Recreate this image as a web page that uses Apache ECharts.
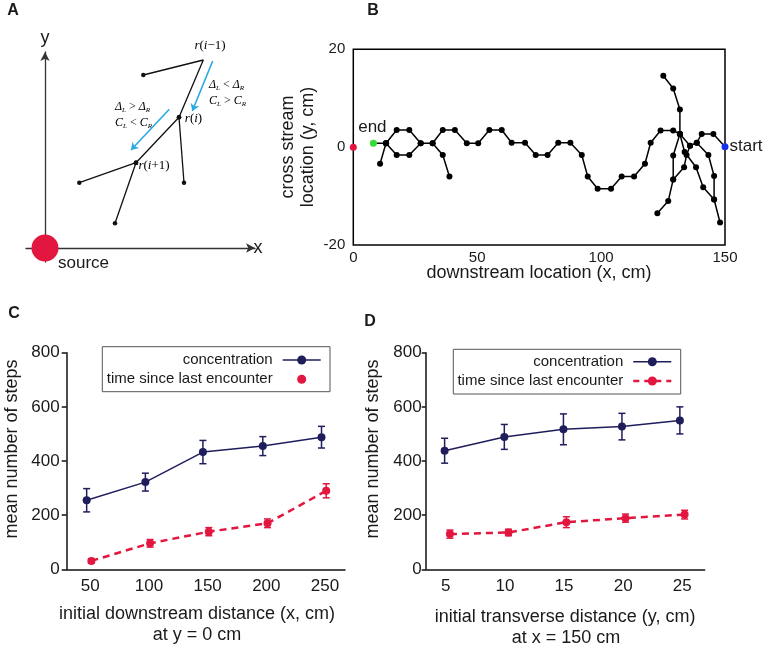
<!DOCTYPE html>
<html><head><meta charset="utf-8">
<script src="https://cdn.jsdelivr.net/npm/echarts@6/dist/echarts.min.js"></script>
<style>html,body{margin:0;padding:0;background:#fff}#c{width:768px;height:653px}</style>
</head><body><div id="c"></div>
<script>
// ---------- Panel A (schematic, arbitrary units with source at origin) ----------
const schemPath = [[98.3,173],[158.3,188],[134,130.7],[91,85.3]];
const schemDotted = [true,false,true,true];
const schemBranchR = [[134,130.7],[139,65.3]];
const schemBranchL = [[91,85.3],[34.3,65.3]];
const schemBranchB = [[91,85.3],[70,24.7]];
const schemArrow1 = [[167.7,187],[147.3,137]];
const schemArrow2 = [[124.3,138.7],[86,98]];
const schemSource = [0,0];

// ---------- Panel B (trajectory, cm) ----------
const mainPath = [[150,0.1],[145.3,2.7],[140.6,2.7],[138.6,0.9],[135.9,0.3],[131.8,2.7],[129.1,3.4],[124.0,3.4],[120.0,0.9],[117.7,-3.4],[113.3,-6.0],[108.3,-6.0],[104.0,-8.5],[98.6,-8.5],[94.6,-6.0],[92.2,-1.6],[87.6,0.9],[82.7,0.9],[78.4,-1.6],[73.6,-1.6],[69.3,0.9],[63.9,0.9],[59.9,3.5],[54.9,3.5],[50.4,0.8],[45.8,0.8],[41.0,3.5],[36.1,3.5],[32.0,0.8],[27.2,0.8],[22.6,3.5],[17.5,3.5],[13.2,0.8],[8.1,0.8]];
const branchTop = [[131.8,2.7],[131.8,7.7],[129.1,12.0],[125.1,14.6]];
const branchLowLeft = [[135.9,0.3],[134.5,-1.6],[133.5,-4.1],[129.1,-6.6],[127.1,-11.0],[122.7,-13.5]];
const branchVert = [[131.8,2.7],[129.1,-1.7],[129.1,-6.6]];
const branchLowRight = [[131.8,2.7],[133.7,-1.0],[138.3,-4.1],[141.2,-8.2],[145.6,-10.7],[148.0,-15.4]];
const branchRight = [[138.6,0.9],[143.3,-1.6],[145.6,-5.9],[145.6,-10.7]];
const branchEnd = [[13.2,0.8],[10.8,-3.4]];
const branchLow1 = [[27.2,0.8],[22.6,-1.6],[17.5,-1.6],[13.2,0.8]];
const branchLow2 = [[32.0,0.8],[36.1,-1.6],[38.8,-6.0]];
const startPt = [150,0.1];
const endPt = [8.1,0.8];
const sourcePt = [0,0];
const bXTicks = [0,50,100,150];
const bYTicks = [-20,0,20];

// ---------- Panel C ----------
const cTicks = [50,100,150,200,250];
const concCx = [47,97,146,197,247];
const concC = [255,322,433,455,488];
const concCErr = [43,33,43,35,40];
const timeCx = [51,101,151,201,251];
const timeC = [31,96,139,170,290];
const timeCErr = [8,14,15,16,26];

// ---------- Panel D ----------
const dTicks = [5,10,15,20,25];
const concDx = [4.9,9.95,14.95,19.9,24.8];
const concD = [438,489,517,527,550];
const concDErr = [46,46,57,49,50];
const timeDx = [5.35,10.3,15.2,20.2,25.2];
const timeD = [130,136,174,189,202];
const timeDErr = [15,12,20,15,16];

const NAVY = '#1f1d5c', RED = '#e2163e', FONT = '"Liberation Sans", Arial, sans-serif', TXT = '#1a1a1a';

function zip(xs, ys){ return xs.map((x,i)=>[x,ys[i]]); }
function errData(xs, ys, es){ return xs.map((x,i)=>[x, ys[i]-es[i], ys[i]+es[i]]); }
function errSeries(data, color, xi){
  return {type:'custom', xAxisIndex:xi, yAxisIndex:xi, data:data, z:3,
    renderItem:function(params, api){
      const x = api.value(0);
      const p1 = api.coord([x, api.value(2)]), p2 = api.coord([x, api.value(1)]);
      const w = 3.5, st = {stroke:color, lineWidth:1.5};
      return {type:'group', children:[
        {type:'line', shape:{x1:p1[0],y1:p1[1],x2:p2[0],y2:p2[1]}, style:st},
        {type:'line', shape:{x1:p1[0]-w,y1:p1[1],x2:p1[0]+w,y2:p1[1]}, style:st},
        {type:'line', shape:{x1:p2[0]-w,y1:p2[1],x2:p2[0]+w,y2:p2[1]}, style:st}
      ]};
    }};
}
function trail(data, idx){
  return {type:'line', xAxisIndex:idx, yAxisIndex:idx, data:data, symbol:'circle', symbolSize:6,
    lineStyle:{color:'#000', width:1.5}, itemStyle:{color:'#000'}, animation:false, silent:true, z:2};
}

const hidden = {show:false};
const chart = echarts.init(document.getElementById('c'));

const mainData = mainPath.map((p,i)=> (i===0 || i===mainPath.length-1) ? {value:p, symbol:'none'} : p);
const schemData = schemPath.map((p,i)=> schemDotted[i] ? p : {value:p, symbol:'none'});

function schemLine(data){
  return {type:'line', xAxisIndex:0, yAxisIndex:0, data:data, symbol:'circle', symbolSize:4.5,
    lineStyle:{color:'#111', width:1.3}, itemStyle:{color:'#111'}, silent:true};
}

function yTitle(text, x, y){
  return {type:'text', x:x, y:y, rotation:Math.PI/2, style:{text:text, font:'18px '+FONT, fill:TXT, align:'center', verticalAlign:'middle'}};
}
function txt(text, x, y, size, align, weight){
  return {type:'text', x:x, y:y, style:{text:text, font:(weight?weight+' ':'')+size+'px '+FONT, fill:TXT, align:align||'center', verticalAlign:'middle'}};
}
function legendBox(x,y,w,h, tx, y1, y2, lx1, lx2, redLine){
  const cx = (lx1+lx2)/2;
  const els = [
    {type:'rect', shape:{x:x,y:y,width:w,height:h}, style:{fill:'#fff', stroke:'#555', lineWidth:1}, z:10},
    {type:'text', x:tx, y:y1, z:11, style:{text:'concentration', font:'15px '+FONT, fill:TXT, align:'right', verticalAlign:'middle'}},
    {type:'text', x:tx, y:y2, z:11, style:{text:'time since last encounter', font:'15px '+FONT, fill:TXT, align:'right', verticalAlign:'middle'}},
    {type:'line', shape:{x1:lx1,y1:y1,x2:lx2,y2:y1}, style:{stroke:NAVY, lineWidth:1.5}, z:11},
    {type:'circle', shape:{cx:cx, cy:y1, r:4.5}, style:{fill:NAVY}, z:12},
    {type:'circle', shape:{cx:cx, cy:y2, r:4.5}, style:{fill:RED}, z:12}
  ];
  if (redLine) els.push({type:'line', shape:{x1:lx1,y1:y2,x2:lx2,y2:y2}, style:{stroke:RED, lineWidth:2.5, lineDash:[6,5]}, z:11});
  return els;
}

const rich = {
  it:{fontFamily:'"Liberation Serif", serif', fontStyle:'italic', fontSize:13, color:'#222'},
  n:{fontFamily:'"Liberation Serif", serif', fontSize:13, color:'#222'},
  g:{fontFamily:'"Liberation Serif", serif', fontStyle:'italic', fontSize:12, color:'#555'},
  s:{fontFamily:'"Liberation Serif", serif', fontStyle:'italic', fontSize:7, color:'#555', verticalAlign:'bottom', padding:[6,0,0,0]},
  o:{fontFamily:'"Liberation Serif", serif', fontSize:12, color:'#555'}
};
function rt(text, x, y, align){ return {type:'text', x:x, y:y, style:{text:text, rich:rich, align:align||'left', verticalAlign:'middle'}}; }

const option = {
  animation:false,
  backgroundColor:'#fff',
  textStyle:{fontFamily:FONT},
  grid:[
    {left:26, top:52, width:229, height:210},
    {left:353.3, top:49.3, width:371.7, height:195.7, show:true, borderColor:'#000', borderWidth:1.5, backgroundColor:'transparent'},
    {left:66.7, top:352.7, width:278.3, height:216.6},
    {left:425.7, top:352.7, width:279, height:216.6}
  ],
  xAxis:[
    {gridIndex:0, type:'value', min:-19, max:210, axisLine:{show:true, onZero:true, symbol:['none','arrow'], symbolSize:[7,9], lineStyle:{color:'#333', width:1.3}}, axisTick:hidden, axisLabel:hidden, splitLine:hidden},
    {gridIndex:1, type:'value', min:0, max:150, interval:50, axisLine:hidden, axisTick:hidden, splitLine:hidden,
      axisLabel:{fontSize:15, color:TXT, margin:5, fontFamily:FONT}},
    {gridIndex:2, type:'value', min:30, max:267, axisLine:{show:true, onZero:false, lineStyle:{color:'#111', width:1.5}}, axisTick:hidden, splitLine:hidden,
      axisLabel:{fontSize:17, color:TXT, margin:9, fontFamily:FONT, customValues:cTicks}},
    {gridIndex:3, type:'value', min:3.3, max:26.9, axisLine:{show:true, onZero:false, lineStyle:{color:'#111', width:1.5}}, axisTick:hidden, splitLine:hidden,
      axisLabel:{fontSize:17, color:TXT, margin:9, fontFamily:FONT, customValues:dTicks}}
  ],
  yAxis:[
    {gridIndex:0, type:'value', min:-14, max:196, axisLine:{show:true, onZero:true, symbol:['none','arrow'], symbolSize:[7,9], lineStyle:{color:'#333', width:1.3}}, axisTick:hidden, axisLabel:hidden, splitLine:hidden},
    {gridIndex:1, type:'value', min:-20, max:20, interval:20, axisLine:hidden, axisTick:hidden, splitLine:hidden,
      axisLabel:{fontSize:15, color:TXT, margin:8, fontFamily:FONT}},
    {gridIndex:2, type:'value', min:0, max:800, interval:200, axisLine:{show:true, onZero:false, lineStyle:{color:'#111', width:1.5}},
      axisTick:{show:true, length:5, lineStyle:{color:'#111', width:1.5}}, splitLine:hidden,
      axisLabel:{fontSize:17, color:TXT, margin:7, fontFamily:FONT}},
    {gridIndex:3, type:'value', min:0, max:800, interval:200, axisLine:{show:true, onZero:false, lineStyle:{color:'#111', width:1.5}},
      axisTick:{show:true, length:4, lineStyle:{color:'#111', width:1.5}}, splitLine:hidden,
      axisLabel:{fontSize:17, color:TXT, margin:4, fontFamily:FONT}}
  ],
  series:[
    // Panel A
    schemLine(schemData), schemLine(schemBranchR), schemLine(schemBranchL), schemLine(schemBranchB),
    {type:'lines', coordinateSystem:'cartesian2d', xAxisIndex:0, yAxisIndex:0, symbol:['none','arrow'], symbolSize:7,
      lineStyle:{color:'#2aa8e0', width:1.6, opacity:1}, data:[{coords:schemArrow1},{coords:schemArrow2}], silent:true},
    {type:'scatter', xAxisIndex:0, yAxisIndex:0, data:[schemSource], symbolSize:27, itemStyle:{color:RED, opacity:1}, clip:false, z:5},
    // Panel B
    trail(mainData,1), trail(branchTop,1), trail(branchLowLeft,1), trail(branchVert,1), trail(branchLowRight,1),
    trail(branchRight,1), trail(branchEnd,1), trail(branchLow1,1), trail(branchLow2,1),
    {type:'scatter', xAxisIndex:1, yAxisIndex:1, data:[startPt], symbolSize:7, itemStyle:{color:'#1530e8', opacity:1}, clip:false, z:5,
      label:{show:true, position:'right', distance:1, formatter:'start', fontSize:17, color:TXT, fontFamily:FONT}},
    {type:'scatter', xAxisIndex:1, yAxisIndex:1, data:[endPt], symbolSize:7, itemStyle:{color:'#33dd33', opacity:1}, clip:false, z:5,
      label:{show:true, position:'top', distance:4, offset:[-1,0], formatter:'end', fontSize:17, color:TXT, fontFamily:FONT}},
    {type:'scatter', xAxisIndex:1, yAxisIndex:1, data:[sourcePt], symbolSize:7, itemStyle:{color:RED, opacity:1}, clip:false, z:5},
    // Panel C
    errSeries(errData(concCx, concC, concCErr), NAVY, 2),
    {type:'line', xAxisIndex:2, yAxisIndex:2, data:zip(concCx, concC), symbol:'circle', symbolSize:8,
      lineStyle:{color:NAVY, width:1.5}, itemStyle:{color:NAVY}, z:4},
    errSeries(errData(timeCx, timeC, timeCErr), RED, 2),
    {type:'line', xAxisIndex:2, yAxisIndex:2, data:zip(timeCx, timeC), symbol:'circle', symbolSize:8,
      lineStyle:{color:RED, width:2.5, type:[7,5]}, itemStyle:{color:RED}, z:4},
    // Panel D
    errSeries(errData(concDx, concD, concDErr), NAVY, 3),
    {type:'line', xAxisIndex:3, yAxisIndex:3, data:zip(concDx, concD), symbol:'circle', symbolSize:8,
      lineStyle:{color:NAVY, width:1.5}, itemStyle:{color:NAVY}, z:4},
    errSeries(errData(timeDx, timeD, timeDErr), RED, 3),
    {type:'line', xAxisIndex:3, yAxisIndex:3, data:zip(timeDx, timeD), symbol:'circle', symbolSize:8,
      lineStyle:{color:RED, width:2.5, type:[7,5]}, itemStyle:{color:RED}, z:4}
  ],
  graphic:[].concat(
    [
      txt('A', 13, 11, 16, 'center', 'bold'),
      txt('B', 373, 11, 16, 'center', 'bold'),
      txt('C', 14, 314, 16, 'center', 'bold'),
      txt('D', 370, 322, 16, 'center', 'bold'),
      // Panel A texts
      txt('y', 45, 38, 18), txt('x', 258, 248, 18), txt('source', 58, 263, 17, 'left'),
      rt('{it|r}{n|(}{it|i}{n|−1)}', 210, 46, 'center'),
      rt('{it|r}{n|(}{it|i}{n|)}', 193.5, 119, 'center'),
      rt('{it|r}{n|(}{it|i}{n|+1)}', 154, 166, 'center'),
      rt('{g|Δ}{s|L}{o| < }{g|Δ}{s|R}', 209, 85),
      rt('{g|C}{s|L}{o| > }{g|C}{s|R}', 209, 101),
      rt('{g|Δ}{s|L}{o| > }{g|Δ}{s|R}', 115, 107),
      rt('{g|C}{s|L}{o| < }{g|C}{s|R}', 115, 123),
      // Panel B titles
      yTitle('cross stream', 288, 147), yTitle('location (y, cm)', 308, 147),
      txt('downstream location (x, cm)', 539, 273, 18),
      // Panel C titles
      yTitle('mean number of steps', 12, 449),
      txt('initial downstream distance (x, cm)', 197, 614, 18),
      txt('at y = 0 cm', 197, 635, 18),
      // Panel D titles
      yTitle('mean number of steps', 373, 449),
      txt('initial transverse distance (y, cm)', 565, 617, 18),
      txt('at x = 150 cm', 566, 638, 18)
    ],
    legendBox(102.3, 346.7, 227.7, 45, 272.7, 360, 379.3, 282.7, 320.7, false),
    legendBox(453.3, 349.3, 227.4, 44.7, 623.3, 361.7, 381, 633.3, 671.3, true)
  )
};
chart.setOption(option);
</script></body></html>
